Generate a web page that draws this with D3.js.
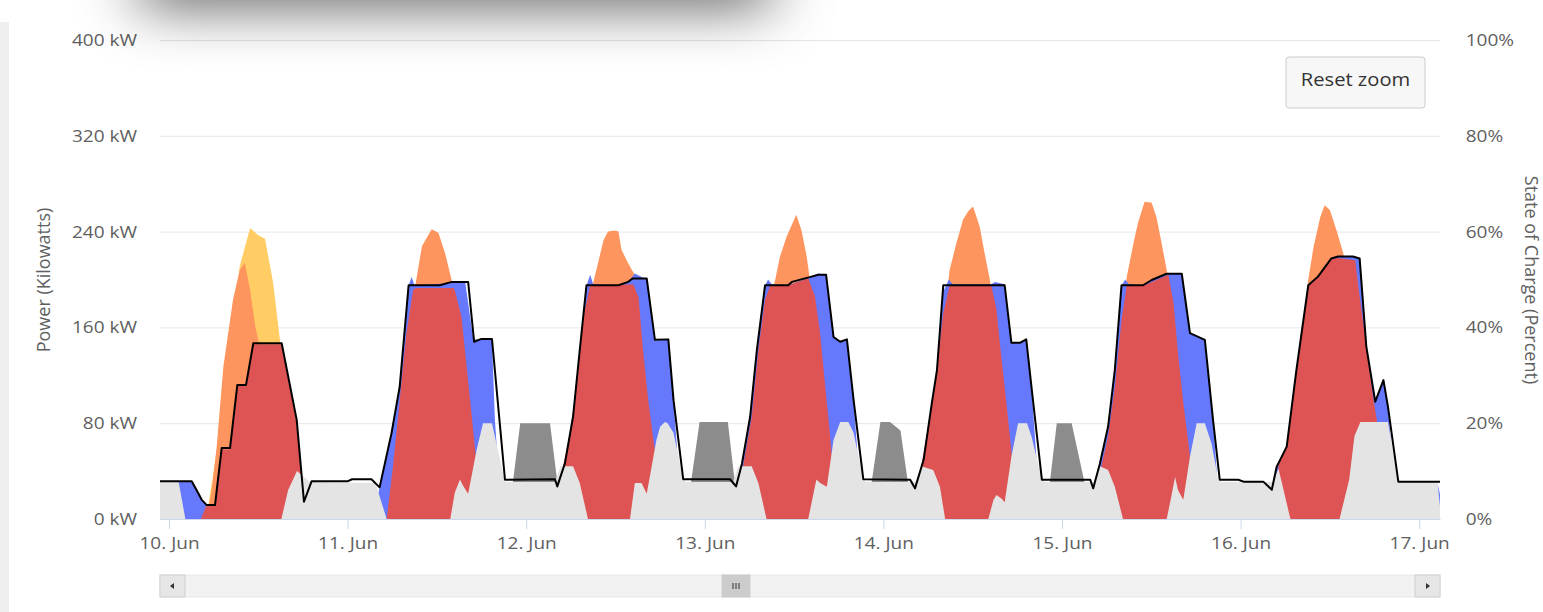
<!DOCTYPE html>
<html>
<head>
<meta charset="utf-8">
<script src="https://cdn.jsdelivr.net/npm/d3@7"></script>
<style>
  body { margin: 0; width: 1543px; height: 612px; overflow: hidden; position: relative; background: #fff; font-family: "Open Sans", sans-serif; }
  #chart { position: absolute; left: 0; top: 0; }
  #leftEdge { position: absolute; left: 0; top: 22px; width: 9px; bottom: 0; background: #efefef; }
  #topShade { position: absolute; left: 140px; top: -40px; width: 630px; height: 40px; box-shadow: 0 0 60px 0 rgba(0,0,0,0.85); pointer-events: none; }
</style>
</head>
<body>
<svg id="chart" width="1543" height="612"></svg>
<div id="leftEdge"></div>
<div id="topShade"></div>
<script>
// hours are counted from 10 Jun 00:00, values in kW unless noted
var dayTicks = [0, 24, 48, 72, 96, 120, 144, 168];
var dayLabels = ["10. Jun", "11. Jun", "12. Jun", "13. Jun", "14. Jun", "15. Jun", "16. Jun", "17. Jun"];
var powerTicks = [0, 80, 160, 240, 320, 400];
var powerLabels = ["0 kW", "80 kW", "160 kW", "240 kW", "320 kW", "400 kW"];
var socTicks = [0, 20, 40, 60, 80, 100];
var socLabels = ["0%", "20%", "40%", "60%", "80%", "100%"];

var gridCharge = [
  [45.6,0],[47.2,80],[51.2,80],[52.8,0],
  [69.45,0],[71.3,81],[75.1,81],[76.6,0],
  [93.7,0],[95.6,81],[96.9,81],[98.3,74],[100.0,0],
  [117.8,0],[119.3,80],[121.3,80],[124.1,0]
];

var solarExtra = [
  [5,0],[7.5,100],[9.5,211],[10.9,243],[12,237],[12.9,234],[14,197],[14.9,150],[15.5,110],[16.5,40],[17.5,0]
];

var solarTotal = [
  [5.0,0],[5.7,22],[6.4,60],[7.3,127],[8.6,183],[9.5,208],[10.2,214],[10.9,191],[11.6,161],[12.0,149],[13,120],[14,90],[15,60],[16,20],[17,0],
  [29.5,0],[31,80],[32,150],[33.1,195],[34,228],[35.3,242],[36.2,239],[37.1,222],[38,199],[39,160],[40,110],[41,60],[42,20],[43,0],
  [54,0],[55.5,140],[56.6,190],[57.0,197],[58.4,233],[59.0,240],[59.9,241],[60.4,240],[60.8,225],[61.5,216],[62.2,208],[62.6,204],[63.3,150],[64,90],[65,30],[65.5,0],
  [78,0],[79.5,150],[80.8,190],[81.4,198],[82.1,219],[83,236],[84.3,254],[85,241],[85.7,219],[86.1,201],[86.7,180],[87.4,140],[88.2,90],[89,30],[89.5,0],
  [102,0],[103.5,130],[104.9,208],[105.8,230],[106.7,250],[107.4,257],[108.05,261],[108.95,244],[109.6,222],[110.3,200],[110.8,180],[111.5,140],[112.3,90],[113,40],[113.5,0],
  [126,0],[127.5,125],[128.7,202],[129.6,230],[130.2,247],[131.1,265],[132.05,264],[132.7,252],[133.4,230],[134.07,208],[134.6,180],[135.3,140],[136,90],[136.8,40],[137.3,0],
  [150,0],[151.5,120],[153.1,200],[153.8,227],[154.7,252],[155.3,262],[156.0,258],[156.9,241],[157.8,222],[158.5,200],[159.5,160],[160.3,110],[161,60],[161.8,0]
];

var battery = [
  [-1.3,31],[3.0,31],[3.7,24],[4.4,16],[5.07,11],[6.2,11],[6.8,0],
  [27.3,0],[28.3,26],[29.9,71],[31.0,110],[32.2,195],[32.6,202],[33.0,195],[38.0,197],[39.8,198],[40.9,150],[43.4,150],[43.8,82],[44.5,20],[45.0,0],
  [51.5,0],[52.2,27],[53.2,46],[54.3,85],[55.2,141],[56.1,195],[56.6,204],[57.0,196],[60.4,195],[61.7,198],[62.6,205],[64.2,200],[65.3,149],[67.1,150],[67.8,99],[68.6,30],[69.0,0],
  [75.5,0],[76.2,27],[77.0,46],[78.1,85],[79.0,141],[80.1,195],[80.5,200],[81.0,196],[83.2,195],[86.1,202],[87.25,205],[88.3,204],[89.3,152],[90.2,148],[91.1,150],[92.0,99],[92.8,30],[93.2,0],
  [99.5,0],[100.25,25],[101.4,49],[102.5,92],[103.2,124],[104.05,190],[104.8,200],[105.3,196],[110.5,196],[111.0,198],[112.3,196],[113.2,147],[114.4,147],[115.2,150],[115.9,110],[116.8,30],[117.2,0],
  [123.7,0],[124.2,25],[125.1,46],[126.2,77],[127.1,124],[128.0,195],[128.5,200],[129.0,196],[130.9,195],[132.05,200],[134.07,205],[136.1,205],[137.2,155],[139.2,149],[140.3,83],[140.9,30],[141.2,0],
  [147.5,0],[148.2,24],[148.85,44],[150.2,60],[151.5,124],[153.1,195],[154.4,202],[156.2,217],[157.1,219],[159.1,219],[160.0,217],[160.9,144],[162.1,98],[163.2,116],[163.8,94],[164.7,30],[165.2,0],
  [170.3,0],[170.45,30],[170.9,18]
];

var solarUsed = [
  [4.3,0],[5.0,11],[6.2,11],[7.1,58],[8.2,58],[9.2,111],[10.3,111],[11.3,146],[15.1,146],[17.1,82],[18.1,14],[18.6,0],
  [29.25,0],[30.1,44],[31,99],[31.9,155],[32.8,191],[33.1,193],[38.2,193],[38.4,191],[39.3,169],[40,127],[40.7,85],[41.35,44],[42,0],
  [52.5,0],[53.0,45],[53.9,72],[54.8,113],[55.7,169],[56.6,195],[62.4,196],[63.1,185],[63.7,141],[64.4,99],[65.1,66],[65.8,35],[66.5,0],
  [76.5,0],[77.2,46],[78.3,85],[79.2,141],[80.1,183],[80.8,195],[83.2,195],[85.9,201],[86.8,186],[87.5,155],[88.15,113],[88.8,72],[89.3,35],[89.9,0],
  [100.5,0],[101.1,44],[102.3,88],[103.2,126],[104.05,172],[104.9,195],[110.5,195],[111.2,175],[111.65,147],[112.3,110],[113.0,69],[113.6,30],[114.2,0],
  [124.6,0],[125.3,44],[126.2,69],[127.1,110],[128.0,166],[128.7,195],[131,195],[134.3,204],[135.0,180],[135.6,138],[136.3,97],[137.0,63],[137.6,30],[138.2,0],
  [148.5,0],[149.1,44],[149.3,49],[150.2,60],[151.5,124],[153.1,195],[154.4,202],[156.2,217],[157.1,218],[159.4,216],[160.0,186],[160.9,144],[161.8,102],[162.3,83],[163,40],[163.5,0]
];

var gridLoad = [
  [-1.3,31],[1.3,31],[2.2,0],[15.1,0],[16.0,24],[17.2,40],[18,36],[19,31],
  [27.6,30],[27.9,27],[29.25,0],[37.8,0],[38.4,22],[39.1,33],[39.5,28],[40.2,21],[41.35,58],[42.2,80],[43.4,80],[45.15,31],
  [51.9,31],[52.6,44],[54.3,44],[55.2,30],[56.3,0],[61.95,0],[62.6,30],[63.5,30],[64.2,21],[65.5,66],[66.0,77],[66.65,81],[67.0,80],[67.8,72],[69.1,33],[69.5,31],
  [75.8,31],[76.5,44],[78.3,44],[79.2,30],[80.3,0],[85.9,0],[86.6,21],[87.0,33],[87.5,30],[88.4,27],[89.3,66],[90.2,81],[91.3,81],[92.0,72],[93.3,33],[93.7,31],
  [100.3,31],[101.1,44],[102.7,41],[103.6,27],[104.3,0],[110.1,0],[110.8,16],[111.2,20],[111.9,17],[112.3,14],[113.2,52],[114.1,80],[115.3,80],[115.9,69],[117.3,33],[117.7,31],
  [124.3,31],[125.1,44],[126.2,41],[127.1,27],[128.2,0],[134.07,0],[134.7,19],[135.2,35],[135.6,24],[136.3,16],[137.2,52],[138.1,80],[139.2,80],[140.1,63],[141.0,33],[141.4,31],
  [148.3,31],[149.1,42],[150.7,0],[157.3,0],[158.6,33],[159.3,69],[160.1,81],[163.8,81],[165.2,31],[170.45,31],[170.9,5]
];

// state of charge, percent (right axis)
var stateOfCharge = [
  [-1.3,7.9],[3.05,7.9],[3.7,6.05],[4.4,4],[5.07,2.9],[6.18,2.9],[7.08,14.8],[8.2,14.8],[9.18,28],[10.35,28],[11.33,36.7],[15.14,36.7],[17.16,20.7],[18.14,3.6],[19.17,7.9],
  [24.05,7.9],[24.6,8.3],[27.2,8.3],[28.3,6.6],[29.9,17.9],[31.0,27.6],[32.2,48.8],[36.4,48.8],[38.0,49.5],[40.2,49.5],[41.0,37],[42.0,37.6],[43.4,37.6],[45.15,8.2],
  [51.87,8.3],[52.18,6.8],[53.2,11.6],[54.3,21.4],[55.2,35.3],[56.1,48.8],[60.4,48.8],[61.7,49.5],[62.3,50.2],[64.2,50.2],[65.3,37.4],[67.1,37.5],[67.8,24.8],[69.1,8.3],
  [75.4,8.3],[76.2,6.8],[77.0,11.6],[78.1,21.4],[79.0,35.3],[80.1,48.8],[83.2,48.8],[83.7,49.5],[86.1,50.5],[87.25,51],[88.3,51],[89.3,38],[90.2,37],[91.1,37.5],[92.0,24.8],[93.3,8.3],
  [99.6,8.2],[100.25,6.4],[101.4,12.3],[102.5,24.1],[103.2,31.1],[104.05,48.8],[112.3,48.8],[113.2,36.8],[114.4,36.8],[115.2,37.5],[115.9,27.6],[117.3,8.2],
  [123.8,8.2],[124.2,6.4],[125.1,11.6],[126.2,19.3],[127.1,31.1],[128.0,48.8],[130.9,48.8],[132.05,49.9],[134.07,51.2],[136.1,51.2],[137.2,38.8],[139.2,37.4],[140.3,20.7],[141.2,8.2],[143.7,8.2],[144.4,7.8],[147.05,7.8],
  [148.2,6.1],[148.85,10.9],[149.3,12.3],[150.2,15.1],[151.5,31.1],[153.1,48.8],[154.4,50.6],[156.2,54.4],[157.1,54.8],[159.1,54.8],[160.0,54.4],[160.9,36],[162.1,24.5],[163.2,29],[163.8,23.5],[165.2,7.8],[170.9,7.8]
];

var t0 = Date.UTC(2019, 5, 10);
function toDate(h) { return new Date(t0 + h * 3600e3); }

var plot = { left: 160, right: 1440, top: 40, bottom: 519 };
var txtScale = "scale(1.12,1)";
var txtColor = "#606060";

var svg = d3.select("#chart");

var x = d3.scaleUtc().domain([toDate(-1.21), toDate(170.8)]).range([plot.left, plot.right]);
var yPow = d3.scaleLinear().domain([0, 400]).range([plot.bottom, plot.top]);
var ySoc = d3.scaleLinear().domain([0, 100]).range([plot.bottom, plot.top]);

// grid
var grid = svg.append("g").attr("transform", "translate(" + plot.left + ",0)")
  .call(d3.axisLeft(yPow).tickValues(powerTicks).tickSize(-(plot.right - plot.left)).tickFormat(""));
grid.select(".domain").remove();
grid.selectAll("line").attr("stroke", "#e6e6e6");

svg.append("clipPath").attr("id", "plotClip")
  .append("rect").attr("x", plot.left).attr("y", plot.top - 5)
  .attr("width", plot.right - plot.left).attr("height", plot.bottom - plot.top + 5);

var area = d3.area()
  .x(function(d) { return x(toDate(d[0])); })
  .y0(yPow(0))
  .y1(function(d) { return yPow(d[1]); });

var series = [
  { data: gridCharge, color: "#8c8c8c" },
  { data: solarExtra, color: "#ffcd63" },
  { data: solarTotal, color: "#ff955e" },
  { data: battery, color: "#6679fc" },
  { data: solarUsed, color: "#de5454" },
  { data: gridLoad, color: "#e4e4e4" }
];

var plotG = svg.append("g").attr("clip-path", "url(#plotClip)");
series.forEach(function(s) {
  plotG.append("path").datum(s.data).attr("d", area).attr("fill", s.color);
});

var socLine = d3.line()
  .x(function(d) { return x(toDate(d[0])); })
  .y(function(d) { return ySoc(d[1]); });
plotG.append("path").datum(stateOfCharge).attr("d", socLine)
  .attr("fill", "none").attr("stroke", "#000").attr("stroke-width", 2).attr("stroke-linejoin", "round");

// axes
var xAxis = svg.append("g").attr("transform", "translate(0," + plot.bottom + ")")
  .call(d3.axisBottom(x).tickValues(dayTicks.map(toDate))
    .tickFormat(function(d, i) { return dayLabels[i]; })
    .tickSize(10).tickSizeOuter(0).tickPadding(8));
xAxis.select(".domain").attr("stroke", "#ccd6eb");
xAxis.selectAll("line").attr("stroke", "#ccd6eb");

var yAxisL = svg.append("g").attr("transform", "translate(" + plot.left + ",0)")
  .call(d3.axisLeft(yPow).tickValues(powerTicks)
    .tickFormat(function(d, i) { return powerLabels[i]; }).tickSize(0).tickPadding(20.5));
yAxisL.select(".domain").remove();

var yAxisR = svg.append("g").attr("transform", "translate(" + plot.right + ",0)")
  .call(d3.axisRight(ySoc).tickValues(socTicks)
    .tickFormat(function(d, i) { return socLabels[i]; }).tickSize(0).tickPadding(23));
yAxisR.select(".domain").remove();

[xAxis, yAxisL, yAxisR].forEach(function(g) {
  g.selectAll("text")
    .attr("fill", txtColor).attr("font-size", 17).attr("font-family", "Open Sans")
    .attr("transform", txtScale);
});

svg.append("text").text("Power (Kilowatts)")
  .attr("transform", "translate(43,280) rotate(-90)")
  .attr("text-anchor", "middle").attr("dominant-baseline", "central")
  .attr("font-size", 18).attr("font-family", "Open Sans").attr("fill", txtColor);

svg.append("text").text("State of Charge (Percent)")
  .attr("transform", "translate(1532,280) rotate(90)")
  .attr("text-anchor", "middle").attr("dominant-baseline", "central")
  .attr("font-size", 18).attr("font-family", "Open Sans").attr("fill", txtColor);

// reset zoom button
var btn = svg.append("g").attr("transform", "translate(1286,57)");
btn.append("rect").attr("width", 139).attr("height", 51).attr("rx", 3)
  .attr("fill", "#f7f7f7").attr("stroke", "#cccccc");
btn.append("text").text("Reset zoom")
  .attr("transform", "translate(69.5,22) " + txtScale)
  .attr("text-anchor", "middle").attr("dominant-baseline", "central")
  .attr("font-size", 18).attr("font-family", "Open Sans").attr("fill", "#333");

// scrollbar
var sb = svg.append("g").attr("transform", "translate(0,575)");
var sbH = 22;
sb.append("rect").attr("x", plot.left).attr("width", plot.right - plot.left).attr("height", sbH)
  .attr("fill", "#f2f2f2").attr("stroke", "#e8e8e8");
sb.append("rect").attr("x", plot.left).attr("width", 25).attr("height", sbH)
  .attr("fill", "#e6e6e6").attr("stroke", "#d0d0d0");
sb.append("rect").attr("x", plot.right - 25).attr("width", 25).attr("height", sbH)
  .attr("fill", "#e6e6e6").attr("stroke", "#d0d0d0");
sb.append("path").attr("d", "M174,8 L170,11 L174,14 Z").attr("fill", "#333");
sb.append("path").attr("d", "M1426,8 L1430,11 L1426,14 Z").attr("fill", "#333");
sb.append("rect").attr("x", 722).attr("width", 28).attr("height", sbH)
  .attr("fill", "#cccccc").attr("stroke", "#cccccc");
[733, 736, 739].forEach(function(gx) {
  sb.append("line").attr("x1", gx).attr("x2", gx).attr("y1", 8).attr("y2", 14)
    .attr("stroke", "#333").attr("stroke-width", 1);
});
</script>
</body>
</html>
